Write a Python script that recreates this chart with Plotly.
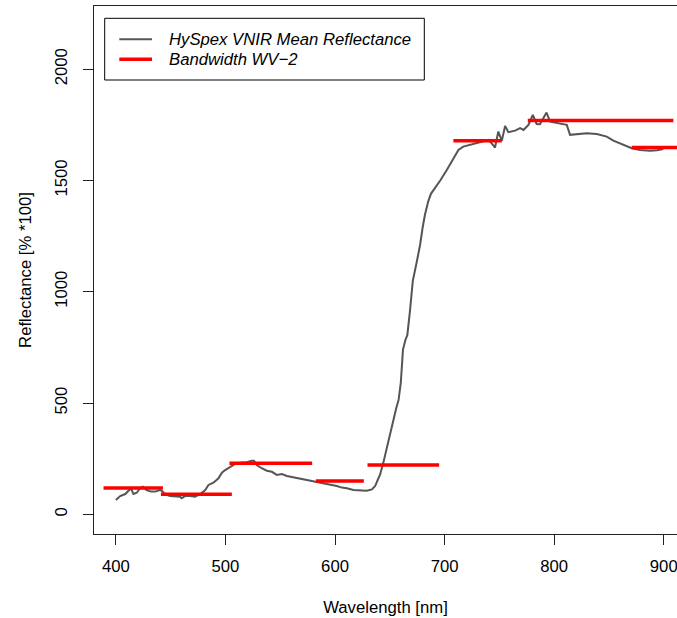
import plotly.graph_objects as go

# HySpex VNIR mean reflectance spectrum (wavelength nm, reflectance %*100)
wavelength = [400, 403.9, 408.5, 411.5, 413.7, 416, 419, 422, 424.6, 428, 432, 436, 440, 442,
              445, 449.5, 454, 458.7, 460, 463, 467.8, 472, 477, 481.5, 484.5, 489, 493.6, 496.7,
              499.7, 504.3, 508.8, 513.4, 519.5, 524, 526, 528.6, 533, 537.8, 542.3, 546.9, 551.5,
              556, 562, 568, 574, 580.3, 586.4, 595.5, 601.6, 606.2, 610.8, 616.8, 622.9, 629,
              633.6, 636.6, 639.6, 641, 644, 647, 650, 653.3, 656, 658, 660, 662, 664, 666, 668.5,
              671, 674, 677.6, 680, 682, 685, 687.5, 690, 693, 696, 702, 708, 712.6, 717, 723,
              729.4, 735.4, 740, 743, 746, 749, 752.2, 755.2, 758.2, 764.3, 768.9, 772, 776.5,
              780.5, 784, 787, 790, 793, 796.3, 800.8, 805.4, 811.5, 814.5, 820.6, 829.7, 838.9,
              848, 854, 861.7, 870.8, 878.4, 887.5, 894, 899.6]
reflectance = [64, 82, 91, 109, 117, 91, 97, 117, 124, 109, 102, 102, 109, 105,
               90, 82, 82, 79, 72, 82, 82, 79, 91, 109, 132, 142, 162, 187,
               199, 214, 226, 232, 234, 241, 241, 221, 207, 196, 191, 177, 181,
               172, 166, 162, 154, 147, 142, 135, 127, 120, 117, 109, 106, 106,
               112, 127, 162, 177, 230, 289, 350, 424, 480, 514, 590, 740, 780, 806, 920,
               1050, 1120, 1210, 1290, 1345, 1405, 1440, 1458, 1478, 1500, 1547, 1600, 1637, 1652, 1660,
               1670, 1678, 1682, 1667, 1648, 1720, 1678, 1745, 1717, 1724, 1735, 1727, 1750,
               1795, 1754, 1753, 1780, 1805, 1764, 1760, 1757, 1750, 1705, 1709, 1712, 1709,
               1697, 1679, 1664, 1645, 1637, 1634, 1636, 1641]

# WorldView-2 bands (start nm, end nm, mean reflectance)
band_start = [388.7, 441.1, 503.6, 582.5, 629.6, 708.0, 775.9, 870.8]
band_end = [442.9, 505.8, 579.1, 626.3, 695.0, 752.2, 908.8, 1040.0]
band_value = [118, 90, 229, 150, 222, 1679, 1769, 1648]

x_ticks = [400, 500, 600, 700, 800, 900]
y_ticks = [0, 500, 1000, 1500, 2000]

FONT = "Liberation Sans, Arial, Helvetica, sans-serif"
FS = 16.7

bx, by = [], []
for s, e, v in zip(band_start, band_end, band_value):
    bx += [s, e, None]
    by += [v, v, None]

fig = go.Figure()
fig.add_trace(go.Scatter(x=wavelength, y=reflectance, mode="lines",
                         line=dict(color="#555555", width=2),
                         name="HySpex VNIR Mean Reflectance", showlegend=False))
fig.add_trace(go.Scatter(x=bx, y=by, mode="lines",
                         line=dict(color="#FF0000", width=3.5),
                         name="Bandwidth WV\u22122", showlegend=False, connectgaps=False))

L, T, R, B = 94, 6, 677, 534
W, H = 677, 618


def px(x):
    return (x - L) / (R - L)


def py(y):
    return (B - y) / (B - T)


shapes = [
    dict(type="rect", xref="paper", yref="paper", x0=px(104.7), x1=px(424.3),
         y0=py(80), y1=py(18.3), line=dict(color="black", width=1), fillcolor="white", layer="above"),
    dict(type="line", xref="paper", yref="paper", x0=px(119.3), x1=px(152),
         y0=py(39.3), y1=py(39.3), line=dict(color="#555555", width=2), layer="above"),
    dict(type="line", xref="paper", yref="paper", x0=px(119.3), x1=px(152),
         y0=py(59.3), y1=py(59.3), line=dict(color="#FF0000", width=3.5), layer="above"),
]
annotations = [
    dict(text="<i>HySpex VNIR Mean Reflectance</i>", xref="paper", yref="paper",
         x=px(167.3), y=py(39.3), xanchor="left", yanchor="middle", showarrow=False,
         font=dict(family=FONT, size=FS, color="black")),
    dict(text="<i>Bandwidth WV\u22122</i>", xref="paper", yref="paper",
         x=px(167.3), y=py(59.3), xanchor="left", yanchor="middle", showarrow=False,
         font=dict(family=FONT, size=FS, color="black")),
]

fig.update_layout(
    width=W, height=H,
    margin=dict(l=L, r=W - R, t=T, b=H - B),
    paper_bgcolor="white", plot_bgcolor="white",
    font=dict(family=FONT, size=FS, color="black"),
    shapes=shapes, annotations=annotations, showlegend=False,
    xaxis=dict(range=[380, 912.1], tickvals=x_ticks, ticktext=[str(v) for v in x_ticks],
               showgrid=False, zeroline=False, showline=True, mirror=True,
               linecolor="#222222", linewidth=1.2, ticks="outside", ticklen=10,
               tickcolor="#222222", tickwidth=1, ticklabelstandoff=7,
               ticklabeloverflow="allow",
               title=dict(text="Wavelength [nm]", standoff=26,
                          font=dict(family=FONT, size=FS))),
    yaxis=dict(range=[-88.5, 2284], tickvals=y_ticks, ticktext=[str(v) for v in y_ticks],
               showgrid=False, zeroline=False, showline=True, mirror=False,
               linecolor="#222222", linewidth=1.2, ticks="outside", ticklen=10,
               tickcolor="#222222", tickwidth=1, tickangle=-90, ticklabelstandoff=9,
               ticklabeloverflow="allow",
               title=dict(text="Reflectance [% *100]", standoff=16,
                          font=dict(family=FONT, size=FS))),
)

fig.write_html("out.html")
